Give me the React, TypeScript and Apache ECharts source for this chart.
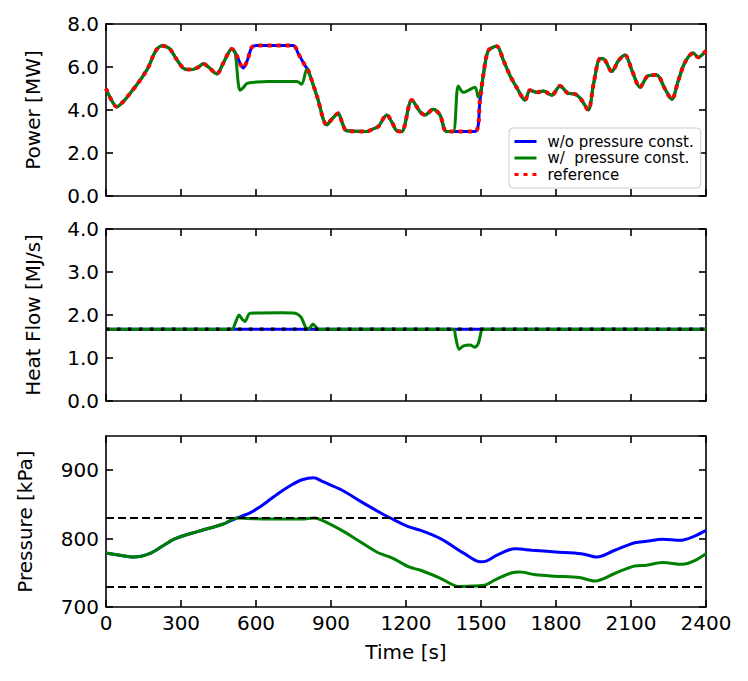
import React, { useEffect, useRef } from "react";
import * as echarts from "echarts";

// ---------- data ----------
const X_MIN = 0;
const X_MAX = 2400;
const X_STEP = 300;

const seriesNames = ["w/o pressure const.", "w/  pressure const.", "reference"];

// Power [MW] – reference trajectory
const powerRef: [number, number][] = [
  [0, 5.0], [20, 4.5], [43, 4.15], [70, 4.4], [96, 4.77], [125, 5.2], [149, 5.6], [170, 6.0],
  [189, 6.53], [205, 6.85], [223, 6.99], [240, 6.95], [256, 6.84], [280, 6.4], [309, 5.95],
  [330, 5.88], [349, 5.89], [370, 6.0], [389, 6.15], [410, 6.0], [443, 5.68], [470, 6.2],
  [503, 6.84], [520, 6.6], [549, 5.95], [565, 6.3], [583, 6.91], [603, 7.0], [749, 7.0],
  [770, 6.6], [796, 6.07], [809, 5.84], [845, 4.6], [883, 3.31], [905, 3.6], [929, 3.85],
  [945, 3.4], [963, 3.03], [1043, 3.0], [1065, 3.1], [1089, 3.23], [1123, 3.77], [1145, 3.4],
  [1163, 3.03], [1183, 3.0], [1223, 4.46], [1256, 3.92], [1276, 3.77], [1309, 4.03], [1336, 3.77],
  [1363, 3.0], [1476, 3.0], [1496, 4.46], [1509, 5.6], [1529, 6.76], [1563, 6.96], [1590, 6.3],
  [1616, 5.6], [1645, 5.0], [1676, 4.46], [1696, 4.92], [1723, 4.82], [1749, 4.88], [1783, 4.69],
  [1816, 5.12], [1849, 4.77], [1876, 4.74], [1900, 4.5], [1929, 4.0], [1950, 5.2], [1976, 6.38],
  [1989, 6.38], [2023, 5.79], [2050, 6.3], [2076, 6.56], [2105, 5.8], [2136, 5.06], [2169, 5.6],
  [2203, 5.63], [2235, 5.0], [2263, 4.5], [2290, 5.4], [2316, 6.22], [2349, 6.65], [2369, 6.45],
  [2400, 6.76],
];
// without pressure constraint: tracks the reference
const powerWithout: [number, number][] = powerRef;
// with pressure constraint
const powerWith: [number, number][] = [
  [0, 5.0], [20, 4.5], [43, 4.15], [70, 4.4], [96, 4.77], [125, 5.2], [149, 5.6], [170, 6.0],
  [189, 6.53], [205, 6.85], [223, 6.99], [240, 6.95], [256, 6.84], [280, 6.4], [309, 5.95],
  [330, 5.88], [349, 5.89], [370, 6.0], [389, 6.15], [410, 6.0], [443, 5.68], [470, 6.2],
  [503, 6.84], [516, 6.7], [536, 4.92], [550, 5.05], [563, 5.23], [603, 5.3], [650, 5.33],
  [763, 5.33], [783, 5.2], [803, 5.9], [809, 5.84], [845, 4.6], [883, 3.31], [905, 3.6],
  [929, 3.85], [945, 3.4], [963, 3.03], [1043, 3.0], [1065, 3.1], [1089, 3.23], [1123, 3.77],
  [1145, 3.4], [1163, 3.03], [1183, 3.0], [1223, 4.46], [1256, 3.92], [1276, 3.77], [1309, 4.03],
  [1336, 3.77], [1363, 3.0], [1389, 3.0], [1409, 5.12], [1429, 4.82], [1476, 5.06], [1489, 4.6],
  [1503, 5.1], [1509, 5.6], [1529, 6.76], [1563, 6.96], [1590, 6.3], [1616, 5.6], [1645, 5.0],
  [1676, 4.46], [1696, 4.92], [1723, 4.82], [1749, 4.88], [1783, 4.69], [1816, 5.12], [1849, 4.77],
  [1876, 4.74], [1900, 4.5], [1929, 4.0], [1950, 5.2], [1976, 6.38], [1989, 6.38], [2023, 5.79],
  [2050, 6.3], [2076, 6.56], [2105, 5.8], [2136, 5.06], [2169, 5.6], [2203, 5.63], [2235, 5.0],
  [2263, 4.5], [2290, 5.4], [2316, 6.22], [2349, 6.65], [2369, 6.45], [2400, 6.76],
];

// Heat flow [MJ/s]
const heatRef: [number, number][] = [[0, 1.67], [2400, 1.67]];
const heatWithout: [number, number][] = [[0, 1.67], [2400, 1.67]];
const heatWith: [number, number][] = [
  [0, 1.67], [505, 1.67], [516, 1.8], [532, 2.0], [545, 1.9], [556, 1.85], [576, 2.04],
  [700, 2.05], [756, 2.04], [780, 1.95], [804, 1.68], [815, 1.7], [828, 1.79], [840, 1.72],
  [848, 1.67], [1390, 1.67], [1398, 1.5], [1412, 1.2], [1430, 1.28], [1456, 1.3], [1476, 1.25],
  [1490, 1.35], [1500, 1.6], [1504, 1.67], [2400, 1.67],
];

// Pressure [kPa]
const pressureWithout: [number, number][] = [
  [0, 779], [50, 776], [111, 773], [174, 778], [230, 790], [277, 800], [372, 811], [467, 821],
  [523, 830], [578, 838], [630, 850], [689, 866], [740, 878], [784, 886], [832, 889], [863, 884],
  [943, 871], [1020, 854], [1101, 837], [1160, 826], [1212, 817], [1259, 812], [1338, 800],
  [1434, 778], [1497, 766], [1521, 767], [1560, 775], [1608, 783], [1640, 785], [1703, 783],
  [1798, 780.5], [1901, 778], [1964, 773], [2035, 783], [2115, 794], [2162, 796], [2226, 799],
  [2297, 797.5], [2350, 803], [2400, 812],
];
const pressureWith: [number, number][] = [
  [0, 779], [50, 776], [111, 773], [174, 778], [230, 790], [277, 800], [372, 811], [467, 821],
  [523, 830], [600, 829], [700, 828.5], [784, 828.5], [832, 830], [863, 827], [943, 812],
  [1010, 797], [1085, 780], [1148, 771], [1212, 758.5], [1259, 753.7], [1338, 742], [1410, 730],
  [1513, 731.7], [1560, 740.5], [1624, 750], [1656, 751], [1719, 747], [1798, 745], [1893, 743],
  [1957, 738], [2035, 749], [2115, 760], [2162, 761], [2226, 765], [2305, 762.5], [2350, 767],
  [2400, 778],
];
const pressureLimits = [830, 730];

// ---------- layout / style ----------
const FONT = "DejaVu Sans";
const BLUE = "#0000ff";
const GREEN = "#008000";
const RED = "#ff0000";
const BLACK = "#000000";

const gridTops = [24, 229, 436];
const gridHeights = [172, 172, 171];

const panels = [
  { min: 0, max: 8, interval: 2, name: "Power [MW]", dec: 1, gap: 63 },
  { min: 0, max: 4, interval: 1, name: "Heat Flow [MJ/s]", dec: 1, gap: 63 },
  { min: 700, max: 950, interval: 100, name: "Pressure [kPa]", dec: 0, gap: 71 },
];

const axisLine = { show: true, onZero: false, lineStyle: { color: BLACK, width: 1.6 } };
const axisTick = { show: true, inside: true, length: 7, lineStyle: { color: BLACK, width: 1.6 } };

export default function App() {
  const ref = useRef<HTMLDivElement>(null);

  useEffect(() => {
    if (!ref.current) return;
    const chart = echarts.init(ref.current, undefined, { renderer: "svg" });

    const grid = gridTops.map((top, i) => ({
      left: 106,
      width: 600,
      top,
      height: gridHeights[i],
      containLabel: false,
    }));

    const xAxis: any[] = [];
    const yAxis: any[] = [];
    panels.forEach((p, i) => {
      xAxis.push({
        type: "value",
        gridIndex: i,
        position: "bottom",
        min: X_MIN,
        max: X_MAX,
        interval: X_STEP,
        axisLine,
        axisTick,
        splitLine: { show: false },
        axisLabel: {
          show: i === 2,
          margin: 6,
          color: BLACK,
          fontFamily: FONT,
          fontSize: 20,
          formatter: (v: number) => String(v),
        },
        name: i === 2 ? "Time [s]" : "",
        nameLocation: "middle",
        nameGap: 35,
        nameTextStyle: { color: BLACK, fontFamily: FONT, fontSize: 20 },
      });
      xAxis.push({
        type: "value",
        gridIndex: i,
        position: "top",
        min: X_MIN,
        max: X_MAX,
        interval: X_STEP,
        axisLine,
        axisTick,
        splitLine: { show: false },
        axisLabel: { show: false },
      });
      yAxis.push({
        type: "value",
        gridIndex: i,
        position: "left",
        min: p.min,
        max: p.max,
        interval: p.interval,
        axisLine,
        axisTick,
        splitLine: { show: false },
        axisLabel: {
          margin: 7,
          color: BLACK,
          fontFamily: FONT,
          fontSize: 20,
          showMaxLabel: i === 2 ? false : true,
          formatter: (v: number) => v.toFixed(p.dec),
        },
        name: p.name,
        nameLocation: "middle",
        nameGap: p.gap,
        nameTextStyle: { color: BLACK, fontFamily: FONT, fontSize: 20 },
      });
      yAxis.push({
        type: "value",
        gridIndex: i,
        position: "right",
        min: p.min,
        max: p.max,
        interval: p.interval,
        axisLine,
        axisTick,
        splitLine: { show: false },
        axisLabel: { show: false },
      });
    });

    const line = (
      name: string,
      data: [number, number][],
      panel: number,
      color: string,
      width: number,
      type: any,
      smooth: number,
      extra: any = {}
    ) => ({
      type: "line",
      name,
      data,
      xAxisIndex: panel * 2,
      yAxisIndex: panel * 2,
      symbol: "none",
      smooth,
      color,
      lineStyle: { color, width, type, cap: "butt" },
      emphasis: { disabled: true },
      ...extra,
    });

    const series = [
      line(seriesNames[0], powerWithout, 0, BLUE, 3, "solid", 0.3),
      line(seriesNames[1], powerWith, 0, GREEN, 3, "solid", 0.3),
      line(seriesNames[2], powerRef, 0, RED, 4, [4, 5], 0.3),
      line(seriesNames[0], heatWithout, 1, BLUE, 3, "solid", 0),
      line(seriesNames[1], heatWith, 1, GREEN, 3, "solid", 0.25),
      line(seriesNames[2], heatRef, 1, BLACK, 3.3, [3.5, 7.5], 0),
      line(seriesNames[0], pressureWithout, 2, BLUE, 3, "solid", 0.3, {
        markLine: {
          silent: true,
          symbol: ["none", "none"],
          label: { show: false },
          lineStyle: { color: BLACK, width: 2, type: [8, 4] },
          data: pressureLimits.map((v) => ({ yAxis: v })),
        },
      }),
      line(seriesNames[1], pressureWith, 2, GREEN, 3, "solid", 0.3),
    ];

    chart.setOption({
      animation: false,
      backgroundColor: "#ffffff",
      grid,
      xAxis,
      yAxis,
      legend: {
        data: seriesNames,
        orient: "vertical",
        left: 509,
        top: 128,
        padding: [6, 7, 6, 4],
        itemGap: 1.5,
        itemWidth: 22,
        itemHeight: 15,
        backgroundColor: "rgba(255,255,255,0.85)",
        borderColor: "#cccccc",
        borderWidth: 1,
        borderRadius: 4,
        selectedMode: false,
        itemStyle: { opacity: 0 },
        lineStyle: { width: 3 },
        textStyle: {
          color: BLACK,
          fontFamily: FONT,
          fontSize: 15,
          lineHeight: 15,
          padding: [0, 0, 0, 6],
        },
      },
      series,
    });

    return () => chart.dispose();
  }, []);

  return (
    <div
      ref={ref}
      style={{ position: "fixed", left: 0, top: 0, width: 748, height: 681, background: "#fff" }}
    />
  );
}
